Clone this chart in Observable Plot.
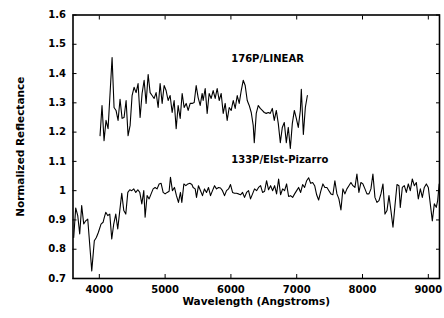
<!DOCTYPE html>
<html><head><meta charset="utf-8">
<script src="https://cdn.jsdelivr.net/npm/d3@7"></script>
<script src="https://cdn.jsdelivr.net/npm/@observablehq/plot@0.6"></script>
<style>body{margin:0;background:#fff} svg text{font-weight:bold !important;font-family:'DejaVu Sans',sans-serif !important}</style>
</head><body><div id="chart"></div>
<script>
// 176P/LINEAR spectrum
const wl176 = [4011,4041,4072,4102,4133,4194,4224,4254,4285,4315,4346,4376,4407,4437,4468,4498,4528,4559,4589,4620,4650,4681,4711,4742,4772,4802,4833,4863,4894,4924,4955,4985,5015,5046,5076,5107,5137,5168,5198,5229,5259,5289,5320,5350,5381,5411,5442,5472,5502,5533,5563,5578,5609,5639,5669,5700,5730,5761,5791,5822,5852,5883,5913,5943,5974,6004,6035,6065,6096,6126,6157,6187,6217,6248,6278,6309,6339,6355,6385,6416,6446,6477,6507,6537,6568,6598,6629,6659,6690,6720,6751,6781,6811,6842,6872,6903,6933,6964,6994,7024,7055,7070,7101,7131,7162];
const refl176 = [1.188,1.291,1.171,1.240,1.212,1.455,1.284,1.274,1.240,1.312,1.247,1.250,1.308,1.188,1.223,1.325,1.353,1.335,1.366,1.250,1.332,1.377,1.298,1.397,1.335,1.325,1.315,1.335,1.284,1.366,1.298,1.359,1.342,1.308,1.325,1.267,1.308,1.212,1.291,1.247,1.332,1.284,1.298,1.274,1.298,1.298,1.301,1.359,1.318,1.291,1.332,1.308,1.349,1.264,1.332,1.315,1.342,1.315,1.349,1.308,1.332,1.264,1.298,1.240,1.284,1.274,1.308,1.281,1.325,1.298,1.342,1.377,1.359,1.308,1.291,1.267,1.223,1.164,1.264,1.291,1.281,1.274,1.267,1.264,1.267,1.264,1.281,1.240,1.274,1.229,1.164,1.216,1.233,1.164,1.216,1.144,1.229,1.274,1.247,1.216,1.274,1.346,1.192,1.284,1.325];

// 133P/Elst-Pizarro spectrum
const wl133 = [3611,3641,3672,3702,3732,3763,3793,3824,3885,3924,3955,3985,4026,4057,4076,4098,4128,4159,4189,4219,4250,4280,4311,4341,4372,4402,4433,4463,4493,4524,4554,4585,4615,4646,4676,4696,4726,4757,4787,4818,4848,4878,4909,4939,4970,5000,5031,5061,5081,5111,5142,5172,5203,5233,5254,5285,5315,5346,5376,5407,5426,5457,5477,5507,5538,5568,5598,5629,5659,5690,5720,5751,5781,5812,5842,5872,5903,5933,5964,5994,6025,6055,6085,6116,6146,6177,6207,6238,6268,6298,6329,6359,6390,6420,6451,6481,6512,6542,6572,6603,6633,6664,6694,6725,6755,6786,6816,6846,6877,6907,6938,6968,6999,7029,7060,7090,7120,7151,7181,7212,7242,7273,7303,7333,7364,7398,7428,7459,7489,7520,7550,7580,7611,7641,7672,7702,7732,7763,7793,7824,7854,7885,7915,7945,7976,8006,8037,8067,8098,8128,8158,8189,8219,8250,8280,8311,8341,8372,8402,8432,8463,8493,8524,8554,8574,8605,8635,8666,8696,8726,8757,8787,8818,8848,8879,8909,8939,8970,9000,9030,9061,9091,9121,9142,9165];
const refl133 = [0.840,0.941,0.915,0.852,0.949,0.886,0.897,0.903,0.726,0.829,0.840,0.857,0.886,0.892,0.909,0.926,0.915,0.920,0.835,0.886,0.920,0.869,0.932,0.991,0.932,0.920,0.994,1.003,1.000,1.006,0.994,1.003,0.994,0.955,1.000,0.909,0.983,0.972,0.989,1.006,1.011,1.006,1.023,1.025,0.994,0.989,0.994,0.998,1.046,1.000,1.011,0.983,0.960,0.994,0.960,1.023,1.017,1.023,1.025,1.021,1.011,1.006,0.977,1.017,1.000,0.983,1.006,0.994,1.011,0.983,1.000,1.017,1.006,1.011,1.009,1.000,0.983,1.000,1.006,1.021,0.994,0.991,0.991,0.989,0.986,0.994,0.977,0.994,1.000,0.972,0.989,1.006,1.000,1.011,1.017,0.994,0.998,1.034,1.003,1.017,1.000,1.017,0.989,1.040,0.986,1.006,1.000,1.023,0.980,0.983,0.977,0.989,1.000,1.011,0.994,1.021,1.011,1.034,1.044,1.025,1.028,1.017,0.986,0.968,0.997,1.023,1.011,1.011,1.000,0.989,0.986,1.034,0.989,0.972,0.934,1.006,0.989,1.006,1.017,1.028,1.017,1.011,1.057,0.994,1.028,1.023,1.006,0.989,0.989,1.006,1.057,0.977,0.960,0.966,0.989,1.023,0.920,0.932,0.983,0.932,0.875,0.949,1.021,1.017,0.943,1.011,1.017,0.994,1.023,1.000,1.040,1.017,1.028,0.972,1.006,0.977,1.011,1.023,1.011,0.955,0.897,0.955,0.943,0.966,1.023,1.017];

const xTicks = [4000,5000,6000,7000,8000,9000];
const yTicks = [0.7,0.8,0.9,1.0,1.1,1.2,1.3,1.4,1.5,1.6];
const yTickLabels = ["0.7","0.8","0.9","1","1.1","1.2","1.3","1.4","1.5","1.6"];
const seriesLabels = ["176P/LINEAR","133P/Elst-Pizarro"];
const labelX = [6005,6005];
const labelY = [1.449,1.104];
const xTitle = "Wavelength (Angstroms)";
const yTitle = "Normalized Reflectance";

const data176 = wl176.map((x,i)=>({x, y: refl176[i]}));
const data133 = wl133.map((x,i)=>({x, y: refl133[i]}));
const labelData = seriesLabels.map((t,i)=>({t, x: labelX[i], y: labelY[i]}));
const yFmt = d => yTickLabels[yTicks.findIndex(t => Math.abs(t-d) < 1e-9)] ?? "";
const blank = () => "";

const chart = Plot.plot({
  width: 444, height: 318,
  marginLeft: 72.5, marginRight: 5, marginTop: 14.5, marginBottom: 40,
  style: {fontFamily: "'DejaVu Sans', sans-serif", fontWeight: "bold", fontSize: "10px", background: "white", color: "black"},
  x: {domain: [3600, 9170]},
  y: {domain: [0.7, 1.6]},
  marks: [
    Plot.line(data133, {x: "x", y: "y", stroke: "black", strokeWidth: 1.1, clip: true}),
    Plot.line(data176, {x: "x", y: "y", stroke: "black", strokeWidth: 1.1, clip: true}),
    Plot.axisX({anchor: "bottom", ticks: xTicks, tickSize: 0, tickPadding: 7, label: null, fontWeight: "bold", fill: "black", tickFormat: d => String(d)}),
    Plot.axisX({anchor: "bottom", ticks: xTicks, tickSize: -4, tickFormat: blank, label: null}),
    Plot.axisX({anchor: "top", ticks: xTicks, tickSize: -4, tickFormat: blank, label: null}),
    Plot.axisY({anchor: "left", ticks: yTicks, tickSize: 0, tickPadding: 7, fontWeight: "bold", fill: "black", tickFormat: yFmt, label: null}),
    Plot.axisY({anchor: "left", ticks: yTicks, tickSize: -4, tickFormat: blank, label: null}),
    Plot.axisY({anchor: "right", ticks: yTicks, tickSize: -4, tickFormat: blank, label: null}),
    Plot.frame({stroke: "black", strokeWidth: 1.6}),
    Plot.text(labelData, {x: "x", y: "y", text: "t", textAnchor: "start", lineAnchor: "middle", fontSize: 10, fontWeight: "bold", fill: "black"}),
    Plot.text([xTitle], {frameAnchor: "bottom", dy: 23, textAnchor: "middle", lineAnchor: "middle", fontSize: 10.5, fontWeight: "bold", fill: "black"}),
    Plot.text([yTitle], {frameAnchor: "left", dx: -52, rotate: -90, textAnchor: "middle", lineAnchor: "middle", fontSize: 10.5, fontWeight: "bold", fill: "black"})
  ]
});
document.getElementById("chart").appendChild(chart);
</script>
</body></html>
